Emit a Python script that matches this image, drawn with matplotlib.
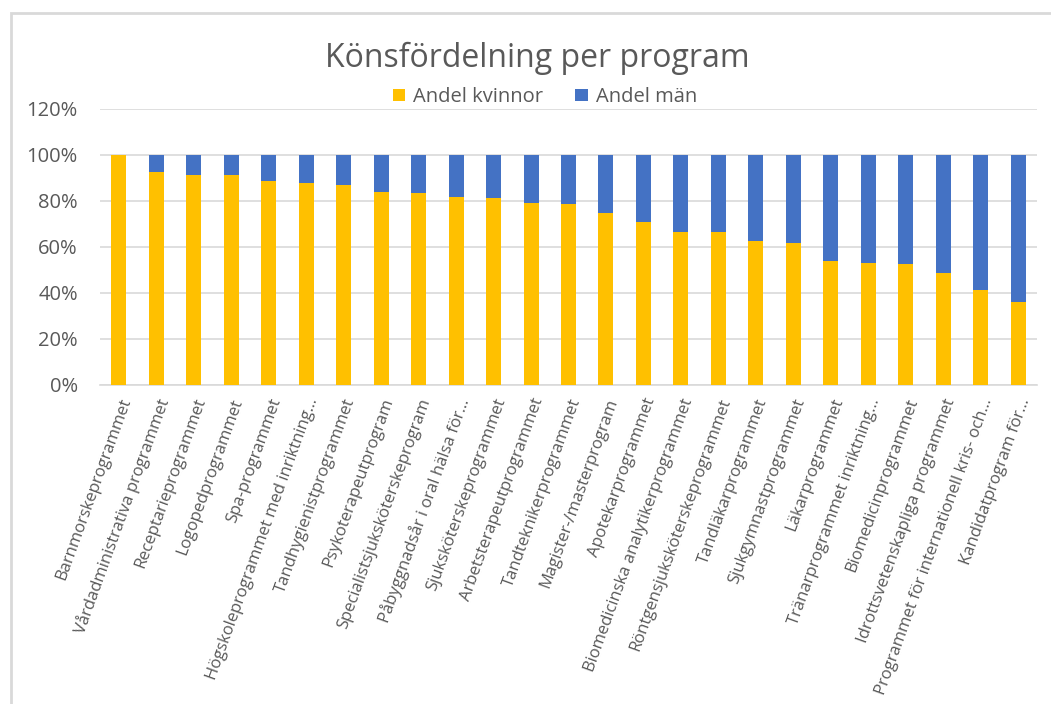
import matplotlib
matplotlib.use('Agg')
import matplotlib.pyplot as plt
from matplotlib.patches import Rectangle
from matplotlib.ticker import FuncFormatter

# data (andel i procent)
program = [
    'Barnmorskeprogrammet',
    'Vårdadministrativa programmet',
    'Receptarieprogrammet',
    'Logopedprogrammet',
    'Spa-programmet',
    'Högskoleprogrammet med inriktning…',
    'Tandhygienistprogrammet',
    'Psykoterapeutprogram',
    'Specialistsjuksköterskeprogram',
    'Påbyggnadsår i oral hälsa för…',
    'Sjuksköterskeprogrammet',
    'Arbetsterapeutprogrammet',
    'Tandteknikerprogrammet',
    'Magister-/masterprogram',
    'Apotekarprogrammet',
    'Biomedicinska analytikerprogrammet',
    'Röntgensjuksköterskeprogrammet',
    'Tandläkarprogrammet',
    'Sjukgymnastprogrammet',
    'Läkarprogrammet',
    'Tränarprogrammet inriktning…',
    'Biomedicinprogrammet',
    'Idrottsvetenskapliga programmet',
    'Programmet för internationell kris- och…',
    'Kandidatprogram för…',
]
andel_kvinnor = [100.0, 92.5, 91.5, 91.5, 88.6, 88.0, 87.0, 84.1, 83.6, 81.9, 81.3, 79.2, 78.6,
                 74.8, 70.9, 66.4, 66.4, 62.7, 61.9, 54.1, 53.0, 52.4, 48.6, 41.4, 36.3]
andel_man = [0.0, 7.5, 8.5, 8.5, 11.4, 12.0, 13.0, 15.9, 16.4, 18.1, 18.7, 20.8, 21.4,
             25.2, 29.1, 33.6, 33.6, 37.3, 38.1, 45.9, 47.0, 47.6, 51.4, 58.6, 63.7]

gul = '#FFC000'
bla = '#4472C4'
grå_text = '#595959'

plt.rcParams['font.family'] = ['Open Sans', 'DejaVu Sans']

fig = plt.figure(figsize=(10.51, 7.04), dpi=100)
# ram runt diagrammet
fig.patches.append(Rectangle((11 / 1051, -0.01), 1.1, 1 - 13 / 704 + 0.01, transform=fig.transFigure,
                             fill=False, edgecolor='#d9d9d9', linewidth=2, zorder=0))

ax = fig.add_axes([100 / 1051, 1 - 385 / 704, 937 / 1051, 276 / 704])
x = list(range(len(program)))
ax.bar(x, andel_kvinnor, width=0.4, color=gul, label='Andel kvinnor', zorder=3)
ax.bar(x, andel_man, width=0.4, bottom=andel_kvinnor, color=bla, label='Andel män', zorder=3)

ax.set_xlim(-0.5, len(program) - 0.5)
ax.set_ylim(0, 120)
ax.set_yticks(range(0, 121, 20))
ax.yaxis.set_major_formatter(FuncFormatter(lambda v, p: f'{v:.0f}%'))
ax.grid(axis='y', color='#d9d9d9', linewidth=1.2, zorder=0)
for s in ['top', 'right', 'left']:
    ax.spines[s].set_visible(False)
ax.spines['bottom'].set_color('#d9d9d9')
ax.spines['bottom'].set_linewidth(1.2)
ax.tick_params(axis='both', length=0, colors=grå_text)
ax.tick_params(axis='y', pad=16, labelsize=14.5)
ax.set_xticks(x)
ax.set_xticklabels(program, rotation=70, ha='right', rotation_mode='anchor', fontsize=12)
ax.tick_params(axis='x', pad=8)

fig.text(537 / 1051, 1 - 58 / 704, 'Könsfördelning per program', ha='center', va='center',
         fontsize=23, color=grå_text)
ax.legend(loc='center', bbox_to_anchor=(545 / 1051, 1 - 97 / 704), bbox_transform=fig.transFigure,
          ncol=2, frameon=False, fontsize=14.5, handlelength=0.6, handleheight=0.6,
          handletextpad=0.4, columnspacing=1.6, labelcolor=grå_text)

fig.savefig('out.png', dpi=100)
